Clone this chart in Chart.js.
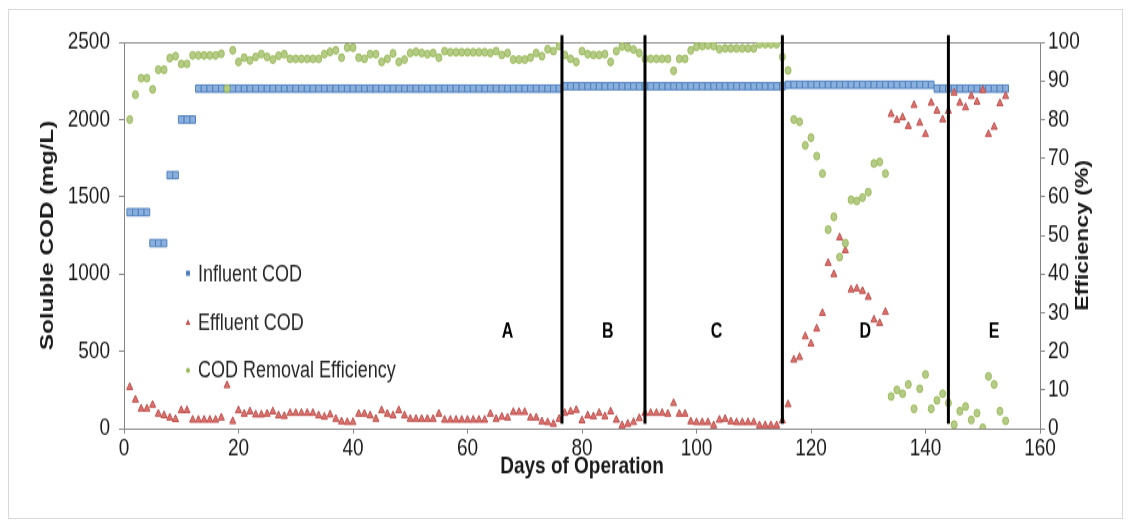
<!DOCTYPE html>
<html>
<head>
  <title>Soluble COD</title>
  <style>
    body { margin: 0; background: #fff; }
    #wrap { position: relative; width: 1131px; height: 527px; }
    #frame { position: absolute; left: 8px; top: 9px; width: 1113px; height: 508px; border: 1px solid #d9d9d9; pointer-events: none; }
  </style>
</head>
<body>
  <div id="wrap">
    <!-- drawn at 412px high and shown at 527px, the reference is stretched vertically -->
    <canvas id="canvas" width="1131" height="412" style="width:1131px;height:527px;display:block"></canvas>
    <div id="frame"></div>
  </div>
  <script src="https://cdn.jsdelivr.net/npm/chart.js"></script>
  <script>
    var days = [
      1,2,3,4,5,6,7,8,9,10,
      11,12,13,14,15,16,17,18,19,20,
      21,22,23,24,25,26,27,28,29,30,
      31,32,33,34,35,36,37,38,39,40,
      41,42,43,44,45,46,47,48,49,50,
      51,52,53,54,55,56,57,58,59,60,
      61,62,63,64,65,66,67,68,69,70,
      71,72,73,74,75,76,77,78,79,80,
      81,82,83,84,85,86,87,88,89,90,
      91,92,93,94,95,96,97,98,99,100,
      101,102,103,104,105,106,107,108,109,110,
      111,112,113,114,115,116,117,118,119,120,
      121,122,123,124,125,126,127,128,129,130,
      131,132,133,134,135,136,137,138,139,140,
      141,142,143,144,145,146,147,148,149,150,
      151,152,153,154
    ];

    // mg/L
    var influent = [
      1400,1400,1400,1400,1200,1200,1200,1640,1640,2000,
      2000,2000,2200,2200,2200,2200,2200,2200,2200,2200,
      2200,2200,2200,2200,2200,2200,2200,2200,2200,2200,
      2200,2200,2200,2200,2200,2200,2200,2200,2200,2200,
      2200,2200,2200,2200,2200,2200,2200,2200,2200,2200,
      2200,2200,2200,2200,2200,2200,2200,2200,2200,2200,
      2200,2200,2200,2200,2200,2200,2200,2200,2200,2200,
      2200,2200,2200,2200,2200,2200,2215,2215,2215,2215,
      2215,2215,2215,2215,2215,2215,2215,2215,2215,2215,
      2215,2215,2215,2215,2215,2215,2215,2215,2215,2215,
      2215,2215,2215,2215,2215,2215,2215,2215,2215,2215,
      2215,2215,2215,2215,2215,2225,2225,2225,2225,2225,
      2225,2225,2225,2225,2225,2225,2225,2225,2225,2225,
      2225,2225,2225,2225,2225,2225,2225,2225,2225,2225,
      2225,2200,2200,2200,2200,2200,2200,2200,2200,2200,
      2200,2200,2200,2200
    ];

    var effluent = [
      268,186,128,128,153,95,85,70,60,117,
      117,56,56,56,56,56,70,279,47,117,
      95,110,90,90,95,110,84,80,100,100,
      100,100,100,84,75,90,62,45,41,41,
      95,95,84,62,117,95,84,117,84,62,
      62,62,62,62,95,56,56,56,56,56,
      56,56,56,95,62,75,70,106,106,106,
      70,70,45,40,30,62,100,110,120,52,
      84,78,100,78,110,56,20,30,41,66,
      100,100,100,100,95,164,95,95,45,40,
      40,40,20,56,62,45,40,40,40,40,
      20,20,20,20,52,156,445,462,596,549,
      646,747,1071,998,1236,1153,899,905,890,851,
      704,682,754,2035,1996,2013,1957,2093,1978,1905,
      2108,2056,2000,2056,2173,2108,2078,2151,2114,2190,
      1905,1952,2104,2151
    ];

    // %
    var efficiency = [
      80,86.4,90.7,90.7,87.8,92.9,92.9,95.9,96.4,94.4,
      94.4,96.6,96.6,96.6,96.6,96.6,97,88,97.9,94.9,
      96,95.3,96.2,96.9,96.2,95.5,96.5,96.9,95.7,95.7,
      95.7,95.7,95.7,95.7,96.9,97.5,97.9,96,98.6,98.6,
      96,95.7,96.9,96.9,94.9,95.7,97.1,94.9,95.5,97.2,
      97.5,97.2,96.9,97.2,96,97.7,97.4,97.4,97.4,97.4,
      97.4,97.4,97.4,97.2,97.7,96.7,97.2,95.5,95.5,95.5,
      96,97.2,96.4,98.2,97.7,99,96.7,95.7,94.9,97.7,
      96.9,96.7,96.7,96.9,94.9,97.7,98.9,98.6,98.1,97.2,
      95.7,95.7,95.7,95.7,95.7,92.6,95.7,95.7,97.9,98.8,
      99,99.2,99,98.2,98.4,98.4,98.4,98.4,98.4,98.4,
      99.5,99.5,99.5,99.5,96.2,92.7,80,79.4,73.3,75.3,
      70.5,66,51.5,54.8,44.4,48,59.2,58.9,59.8,61.2,
      68.6,69,66,8.3,10,9,11.4,5.1,10.3,14,
      5.1,7.3,9,6.6,1,4.5,5.7,2.2,4,0.2,
      13.5,11.4,4.5,2
    ];

    var phaseBounds = [76.5, 91, 115, 144];
    var phaseLineEnds = [32, 2545];
    var phaseNames = ['A', 'B', 'C', 'D', 'E'];
    var phaseNameDays = [67, 84.5, 103.5, 129.5, 152];
    var phaseNameLevel = 628;

    var legendNames = ['Influent COD', 'Effluent COD', 'COD Removal Efficiency'];

    var S = 527 / 412;   // vertical stretch of the picture
    var FONT = '"Liberation Sans", Arial, sans-serif';
    var AXIS = '#868686';
    var TEXT = '#1a1a1a';

    function pts(ys) {
      return days.map(function (d, i) { return {x: d, y: ys[i]}; });
    }

    function plain(v) { return String(v); }

    var datasets = phaseBounds.map(function (b) {
      return {
        type: 'line',
        data: [{x: b, y: phaseLineEnds[0]}, {x: b, y: phaseLineEnds[1]}],
        borderColor: '#000',
        borderWidth: 3,
        pointRadius: 0,
        clip: false,
        yAxisID: 'y',
        order: 0
      };
    });
    datasets.push({
      label: legendNames[2], data: pts(efficiency), yAxisID: 'y2', order: 1,
      pointStyle: 'circle', pointRadius: 3, backgroundColor: '#b5cb88', borderColor: '#9bbb59', borderWidth: 1
    });
    datasets.push({
      label: legendNames[1], data: pts(effluent), yAxisID: 'y', order: 2,
      pointStyle: 'triangle', pointRadius: 3.5, backgroundColor: '#d9736f', borderColor: '#c0504d', borderWidth: 1
    });
    datasets.push({
      label: legendNames[0], data: pts(influent), yAxisID: 'y', order: 3,
      pointStyle: 'rect', pointRadius: 4, backgroundColor: '#8cb0de', borderColor: '#4f81bd', borderWidth: 1
    });

    var decor = {
      id: 'decor',
      afterDatasetsDraw: function (chart) {
        var ctx = chart.ctx, xs = chart.scales.x, ys = chart.scales.y, a = chart.chartArea;
        ctx.save();
        ctx.fillStyle = '#000';
        ctx.textAlign = 'center';
        ctx.textBaseline = 'middle';
        ctx.font = 'bold 16px ' + FONT;
        phaseNames.forEach(function (n, i) {
          ctx.fillText(n, xs.getPixelForValue(phaseNameDays[i]), ys.getPixelForValue(phaseNameLevel));
        });

        // legend inside the plot
        var lx = a.left + 64, rows = [231, 280, 328];
        ctx.font = '18px ' + FONT;
        ctx.textAlign = 'left';
        rows.forEach(function (r, i) {
          var y = a.top + r / S;
          ctx.fillStyle = ['#4f81bd', '#c0504d', '#9bbb59'][i];
          ctx.beginPath();
          if (i === 0) ctx.rect(lx - 2, y - 2, 4, 4);
          else if (i === 1) { ctx.moveTo(lx, y - 2.5); ctx.lineTo(lx + 2.5, y + 2); ctx.lineTo(lx - 2.5, y + 2); ctx.closePath(); }
          else ctx.arc(lx, y, 2, 0, Math.PI * 2);
          ctx.fill();
          ctx.fillStyle = '#262626';
          ctx.fillText(legendNames[i], lx + 10, y + 1);
        });

        // right axis title reads bottom to top
        ctx.translate(1083, (a.top + a.bottom) / 2);
        ctx.rotate(-Math.PI / 2);
        ctx.textAlign = 'center';
        ctx.fillStyle = TEXT;
        ctx.font = 'bold 18px ' + FONT;
        ctx.fillText('Efficiency (%)', 0, 0);
        ctx.restore();
      }
    };

    window.onload = function () {
      var ctx = document.getElementById('canvas').getContext('2d');
      window.myChart = new Chart(ctx, {
        type: 'scatter',
        data: {datasets: datasets},
        plugins: [decor],
        options: {
          responsive: false,
          devicePixelRatio: 1,
          animation: false,
          events: [],
          layout: {padding: {left: 34, right: 20, top: 33, bottom: 36}},
          plugins: {legend: {display: false}, tooltip: {enabled: false}},
          scales: {
            x: {
              type: 'linear', position: 'bottom', min: 0, max: 160,
              ticks: {stepSize: 20, color: TEXT, padding: 0, font: {family: FONT, size: 19}, callback: plain},
              grid: {drawOnChartArea: false, tickLength: 4, color: AXIS},
              border: {color: AXIS},
              title: {display: true, text: 'Days of Operation', color: TEXT, padding: {top: 0, bottom: 0},
                      font: {family: FONT, size: 19, weight: 'bold'}},
              afterFit: function (s) { s.height = 41; }
            },
            x2: {
              type: 'linear', position: 'top', min: 0, max: 160,
              ticks: {display: false},
              grid: {display: false, drawTicks: false},
              border: {display: true, color: AXIS},
              afterFit: function (s) { s.height = 0; }
            },
            y: {
              position: 'left', min: 0, max: 2500,
              ticks: {stepSize: 500, color: TEXT, padding: 9, font: {family: FONT, size: 19}, callback: plain},
              grid: {drawOnChartArea: false, tickLength: 5, color: AXIS},
              border: {color: AXIS},
              title: {display: true, text: 'Soluble COD (mg/L)', color: TEXT, padding: {top: 2, bottom: 0},
                      font: {family: FONT, size: 19, weight: 'bold'}},
              afterFit: function (s) { s.width = 90; }
            },
            y2: {
              position: 'right', min: 0, max: 100,
              ticks: {stepSize: 10, color: TEXT, padding: 3, font: {family: FONT, size: 19}, callback: plain},
              grid: {drawOnChartArea: false, tickLength: 5, color: AXIS},
              border: {color: AXIS},
              afterFit: function (s) { s.width = 71; }
            }
          }
        }
      });
    };
  </script>
</body>
</html>
